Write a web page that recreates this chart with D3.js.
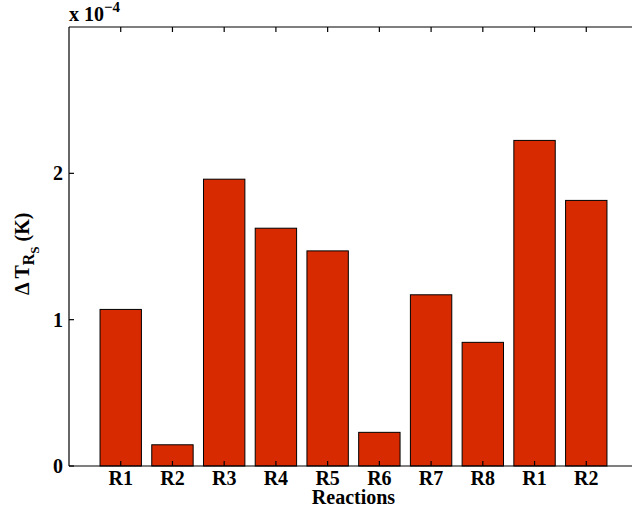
<!DOCTYPE html>
<html>
<head>
<meta charset="utf-8">
<script src="https://cdn.jsdelivr.net/npm/d3@7"></script>
<style>
  body { margin: 0; background: #fff; }
  text { font-family: "Liberation Serif", "Times New Roman", serif; font-weight: bold; }
</style>
</head>
<body>
<div class="chart"></div>
<script>
// reaction labels along the x axis (R1, R2 repeat at the end)
const reactions = ["R1", "R2", "R3", "R4", "R5", "R6", "R7", "R8", "R1", "R2"];
// temperature change, in units of 1e-4 K
const deltaT = [1.07, 0.145, 1.96, 1.625, 1.47, 0.23, 1.17, 0.845, 2.225, 1.815];
const yTicks = [0, 1, 2];

const outerWidth = 632, outerHeight = 516;
const margin = {top: 27, right: -6, bottom: 50, left: 69};
const width = outerWidth - margin.left - margin.right;
const height = outerHeight - margin.top - margin.bottom;
const fs = 20;

const svg = d3.select(".chart").append("svg")
    .attr("width", outerWidth)
    .attr("height", outerHeight)
  .append("g")
    .attr("transform", `translate(${margin.left},${margin.top})`);

const xScale = d3.scaleLinear().domain([0, reactions.length + 1]).range([0, width]);
const yScale = d3.scaleLinear().domain([0, 3]).range([height, 0]);
const barW = xScale(0.8) - xScale(0);

// bars
svg.selectAll("rect.bar")
  .data(deltaT)
  .join("rect")
    .attr("class", "bar")
    .attr("x", (d, i) => xScale(i + 1) - barW / 2)
    .attr("y", d => yScale(d))
    .attr("width", barW)
    .attr("height", d => yScale(0) - yScale(d))
    .attr("fill", "#d82a00")
    .attr("stroke", "#000")
    .attr("stroke-width", 1);

// axis lines (box without the right side, which falls off the picture)
const ax = svg.append("g").attr("stroke", "#000").attr("stroke-width", 1.2);
ax.append("line").attr("x1", 0).attr("x2", 0).attr("y1", 0).attr("y2", height);
ax.append("line").attr("x1", 0).attr("x2", width).attr("y1", 0).attr("y2", 0);
ax.append("line").attr("x1", 0).attr("x2", width).attr("y1", height).attr("y2", height);

// inward ticks
const tickLen = 5;
reactions.forEach((r, i) => {
  ax.append("line").attr("x1", xScale(i + 1)).attr("x2", xScale(i + 1)).attr("y1", 0).attr("y2", tickLen);
  ax.append("line").attr("x1", xScale(i + 1)).attr("x2", xScale(i + 1)).attr("y1", height).attr("y2", height - tickLen);
});
yTicks.forEach(t => {
  ax.append("line").attr("x1", 0).attr("x2", tickLen).attr("y1", yScale(t)).attr("y2", yScale(t));
});

// y tick labels
svg.selectAll("text.ytick")
  .data(yTicks)
  .join("text")
    .attr("class", "ytick")
    .attr("x", -6)
    .attr("y", d => yScale(d))
    .attr("dy", "0.35em")
    .attr("text-anchor", "end")
    .attr("font-size", fs)
    .text(d => d);

// x tick labels
svg.selectAll("text.xtick")
  .data(reactions)
  .join("text")
    .attr("class", "xtick")
    .attr("x", (d, i) => xScale(i + 1))
    .attr("y", height + 19)
    .attr("text-anchor", "middle")
    .attr("font-size", fs)
    .text(d => d);

// x axis title
svg.append("text")
    .attr("x", xScale((reactions.length + 1) / 2))
    .attr("y", height + 38)
    .attr("text-anchor", "middle")
    .attr("font-size", fs)
    .text("Reactions");

// exponent label
const expo = svg.append("text")
    .attr("x", 0)
    .attr("y", -6)
    .attr("font-size", fs);
expo.append("tspan").text("x 10");
expo.append("tspan").attr("dy", -9).attr("font-size", 15).text("\u22124");

// y axis title with nested subscripts
const ylab = svg.append("text")
    .attr("transform", `translate(${-40},${yScale(1.45)}) rotate(-90)`)
    .attr("text-anchor", "middle")
    .attr("font-size", fs);
ylab.append("tspan").text("\u0394 T");
ylab.append("tspan").attr("dy", 5).attr("font-size", 16).text("R");
ylab.append("tspan").attr("dy", 5).attr("font-size", 13).text("S");
ylab.append("tspan").attr("dy", -10).text(" (K)");
</script>
</body>
</html>
